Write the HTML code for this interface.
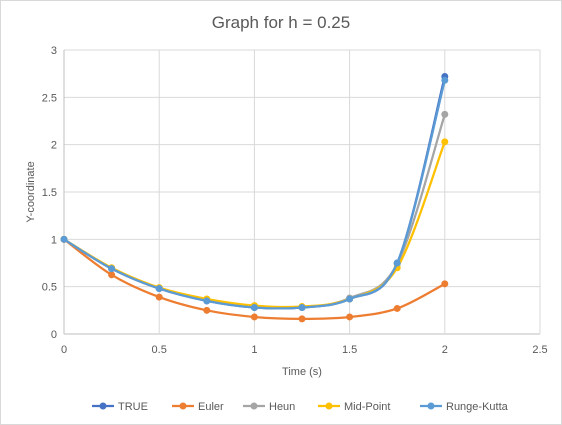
<!DOCTYPE html>
<html><head><meta charset="utf-8"><style>
html,body{margin:0;padding:0;background:#fff;}
svg{display:block;font-family:"Liberation Sans",sans-serif;}
</style></head><body>
<svg id="chart" width="562" height="425">
<rect x="0.5" y="0.5" width="561" height="424" fill="#fff" stroke="#d9d9d9"/>
<text x="281" y="28" text-anchor="middle" font-size="17" fill="#595959">Graph for h = 0.25</text>
<g id="grid"></g><g id="axes"></g><g id="series"></g><g id="legend"></g>
<text x="302" y="375" text-anchor="middle" font-size="11" fill="#595959">Time (s)</text>
<text transform="translate(34,192) rotate(-90)" text-anchor="middle" font-size="11" fill="#595959">Y-coordinate</text>
</svg>
<script>
const xs = [0,0.25,0.5,0.75,1,1.25,1.5,1.75,2];
const seriesNames = ["TRUE","Euler","Heun","Mid-Point","Runge-Kutta"];
const trueVals = [1,0.69,0.48,0.35,0.28,0.28,0.37,0.75,2.72];
const eulerVals = [1,0.625,0.39,0.25,0.18,0.16,0.18,0.27,0.53];
const heunVals = [1,0.69,0.48,0.36,0.29,0.28,0.38,0.74,2.32];
const midVals = [1,0.70,0.49,0.37,0.30,0.29,0.37,0.70,2.03];
const rkVals = [1,0.69,0.48,0.35,0.28,0.28,0.37,0.75,2.68];
const xTicks = [0,0.5,1,1.5,2,2.5];
const yTicks = [0,0.5,1,1.5,2,2.5,3];
const colors = ["#4472C4","#ED7D31","#A5A5A5","#FFC000","#5B9BD5"];
const NS="http://www.w3.org/2000/svg";
const X0=64,X1=540,Y0=334,Y1=50;
const sx=v=>X0+(v/2.5)*(X1-X0);
const sy=v=>Y0-(v/3)*(Y0-Y1);
function mk(t,a,p){const e=document.createElementNS(NS,t);for(const k in a)e.setAttribute(k,a[k]);p.appendChild(e);return e;}
const grid=document.getElementById('grid'),axes=document.getElementById('axes'),ser=document.getElementById('series'),leg=document.getElementById('legend');
yTicks.forEach(v=>{
 const l=mk('line',{x1:X0,x2:X1,y1:sy(v),y2:sy(v),stroke:v===0?'#bfbfbf':'#d9d9d9'},grid);
 
 
 const t=mk('text',{x:X0-7,y:sy(v)+4,'text-anchor':'end','font-size':'11',fill:'#595959'},axes);
 t.textContent=String(v);
 
 
});
xTicks.forEach(v=>{
 const l=mk('line',{x1:sx(v),x2:sx(v),y1:Y1,y2:Y0,stroke:v===0?'#bfbfbf':'#d9d9d9'},grid);
 
 
 const t=mk('text',{x:sx(v),y:Y0+19,'text-anchor':'middle','font-size':'11',fill:'#595959'},axes);
 t.textContent=String(v);
 
 
});
function smooth(pts){
 let d=`M${pts[0][0]},${pts[0][1]}`;
 for(let i=0;i<pts.length-1;i++){
  const p0=pts[Math.max(0,i-1)],p1=pts[i],p2=pts[i+1],p3=pts[Math.min(pts.length-1,i+2)];
  const c1=[p1[0]+(p2[0]-p0[0])/6,p1[1]+(p2[1]-p0[1])/6];
  const c2=[p2[0]-(p3[0]-p1[0])/6,p2[1]-(p3[1]-p1[1])/6];
  d+=` C${c1[0]},${c1[1]} ${c2[0]},${c2[1]} ${p2[0]},${p2[1]}`;
 }
 return d;
}
const all=[trueVals,eulerVals,heunVals,midVals,rkVals];
all.forEach((vals,si)=>{
 const g=mk('g',{},ser);
 
 
 const pts=xs.map((x,i)=>[sx(x),sy(vals[i])]);
 mk('path',{d:smooth(pts),fill:'none',stroke:colors[si],'stroke-width':'2.25'},g);
 pts.forEach(p=>{
  const c=mk('circle',{cx:p[0],cy:p[1],r:3.5,fill:colors[si]},g);
  
  
 });
});
const legX=[92,172,243,318,420];
seriesNames.forEach((n,i)=>{
 const g=mk('g',{},leg);
 
 
 mk('line',{x1:legX[i],x2:legX[i]+22,y1:406,y2:406,stroke:colors[i],'stroke-width':'2.25'},g);
 mk('circle',{cx:legX[i]+11,cy:406,r:3.5,fill:colors[i]},g);
 const t=mk('text',{x:legX[i]+26,y:410,'font-size':'11',fill:'#595959'},g);
 t.textContent=n;
});
</script>
</body></html>
